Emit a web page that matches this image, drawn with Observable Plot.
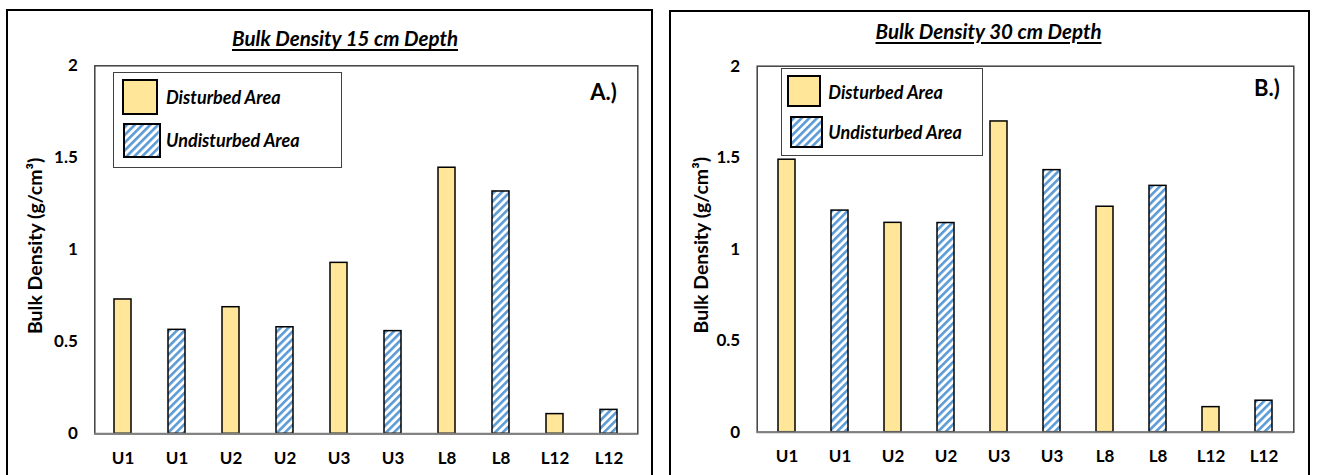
<!DOCTYPE html>
<html>
<head>
<meta charset="utf-8">
<script src="https://cdn.jsdelivr.net/npm/d3@7"></script>
<script src="https://cdn.jsdelivr.net/npm/@observablehq/plot@0.6"></script>
<style>
  html, body { margin: 0; padding: 0; background: #fff; }
  body { width: 1317px; height: 475px; position: relative; overflow: hidden; font-family: Lato, "Open Sans", sans-serif; }
  .panel-border { position: absolute; border: 2.5px solid #000; box-sizing: border-box; }
  .chart { position: absolute; top: 0; }
  .title { position: absolute; font-size: 20.5px; line-height: 20px; font-weight: bold; font-style: italic; text-decoration: underline; text-underline-offset: 3px; white-space: nowrap; transform: translateX(-50%); color: #000; }
  .legend { position: absolute; border: 1.5px solid #404040; box-sizing: border-box; background: #fff; }
  .swatch { position: absolute; box-sizing: border-box; border: 2px solid #000; }
  .legend-label { position: absolute; font-size: 18px; font-weight: bold; font-style: italic; white-space: nowrap; transform: translateY(-50%); line-height: 18px; }
</style>
</head>
<body>
<svg width="0" height="0" style="position:absolute">
  <defs>
    <pattern id="wideUpDiag" patternUnits="userSpaceOnUse" width="5.5" height="5.5" patternTransform="rotate(45)">
      <rect width="5.5" height="5.5" fill="#ffffff"></rect>
      <rect width="2.6" height="5.5" fill="#5B9BD5"></rect>
    </pattern>
  </defs>
</svg>
<div class="panel-border" style="left:6px; top:9px; width:647px; height:500px"></div>
<div class="panel-border" style="left:669px; top:10px; width:641px; height:500px"></div>
<div id="chartA" class="chart" style="left:0px"></div>
<div id="chartB" class="chart" style="left:660px"></div>
<script>
// Sample positions along the x axis (two bars per site: disturbed, undisturbed)
const categories = ["U1", "U1", "U2", "U2", "U3", "U3", "L8", "L8", "L12", "L12"];
const areas = ["Disturbed Area", "Undisturbed Area"];
const barArea = ["Disturbed Area", "Undisturbed Area", "Disturbed Area", "Undisturbed Area",
                 "Disturbed Area", "Undisturbed Area", "Disturbed Area", "Undisturbed Area",
                 "Disturbed Area", "Undisturbed Area"];

// Bulk density (g/cm³)
const density15 = [0.73, 0.565, 0.688, 0.579, 0.929, 0.558, 1.446, 1.317, 0.107, 0.13];
const density30 = [1.489, 1.211, 1.144, 1.143, 1.698, 1.432, 1.232, 1.346, 0.137, 0.172];

const yTicks = [0, 0.5, 1, 1.5, 2];
const yLabel = "Bulk Density (g/cm³)";
const titles = ["Bulk Density 15 cm Depth", "Bulk Density 30 cm Depth"];
const panelTags = ["A.)", "B.)"];

const areaFill = {"Disturbed Area": "#FFE699", "Undisturbed Area": "url(#wideUpDiag)"};

function rowsFor(values) {
  return values.map((v, i) => ({slot: i, label: categories[i], area: barArea[i], value: v}));
}

function bulkChart(values, tag, g) {
  const rows = rowsFor(values);
  return Plot.plot({
    width: g.width,
    height: 475,
    marginLeft: g.left,
    marginRight: g.right,
    marginTop: g.top,
    marginBottom: g.bottom,
    style: {background: "transparent", fontFamily: "Lato, 'Open Sans', sans-serif", color: "#000", overflow: "visible"},
    x: {type: "band", domain: d3.range(categories.length), paddingInner: 0.687, paddingOuter: 0.3435},
    y: {domain: [0, 2]},
    marks: [
      Plot.frame({stroke: "#404040", strokeWidth: 1.5}),
      ...areas.map(a => Plot.barY(rows.filter(d => d.area === a), {
        x: "slot", y: "value", fill: areaFill[a], stroke: "#000", strokeWidth: 1.5
      })),
      Plot.ruleY([0], {stroke: "#808080", strokeWidth: 2}),
      Plot.axisX({tickSize: 0, tickPadding: 18, tickFormat: i => categories[i], label: null,
                  fontSize: 17, fontWeight: "bold"}),
      Plot.axisY({ticks: yTicks, tickSize: 0, tickPadding: 17, tickFormat: d => String(d), label: null,
                  fontSize: 17, fontWeight: "bold"}),
      Plot.text([yLabel], {text: d => d, frameAnchor: "left", textAnchor: "middle", rotate: -90,
                           dx: g.labelDx, dy: -4, fontSize: 19.5, fontWeight: "bold"}),
      Plot.text([tag], {text: d => d, frameAnchor: "top-right", textAnchor: "end", lineAnchor: "middle",
                        dx: g.tagDx, dy: g.tagDy, fontSize: 22, fontWeight: "bold"})
    ]
  });
}

document.getElementById("chartA").append(bulkChart(density15, panelTags[0],
  {width: 660, left: 94.3, right: 22.7, top: 65.3, bottom: 41.7, labelDx: -59, tagDx: -21, tagDy: 27.5}));
document.getElementById("chartB").append(bulkChart(density30, panelTags[1],
  {width: 657, left: 96.7, right: 23.7, top: 65.7, bottom: 43.3, labelDx: -55, tagDx: -14, tagDy: 22.5}));

// Panel titles
function addTitle(text, cx, top) {
  const el = document.createElement("div");
  el.className = "title";
  el.textContent = text;
  el.style.left = cx + "px";
  el.style.top = top + "px";
  document.body.append(el);
}
addTitle(titles[0], 345, 28);
addTitle(titles[1], 988.5, 20.5);

// Legend boxes
function addLegend(box, items) {
  const lg = document.createElement("div");
  lg.className = "legend";
  Object.assign(lg.style, {left: box.x + "px", top: box.y + "px", width: box.w + "px", height: box.h + "px"});
  document.body.append(lg);
  items.forEach((it, k) => {
    const sw = document.createElement("div");
    sw.className = "swatch";
    Object.assign(sw.style, {left: it.sx + "px", top: it.sy + "px", width: it.sw + "px", height: it.sh + "px"});
    if (areas[k] === "Disturbed Area") {
      sw.style.background = areaFill[areas[k]];
    } else {
      sw.innerHTML = `<svg width="100%" height="100%" style="display:block"><rect width="100%" height="100%" fill="url(#wideUpDiag)"></rect></svg>`;
    }
    document.body.append(sw);
    const lb = document.createElement("div");
    lb.className = "legend-label";
    lb.textContent = areas[k];
    Object.assign(lb.style, {left: it.tx + "px", top: it.ty + "px"});
    document.body.append(lb);
  });
}
addLegend({x: 113.3, y: 71.7, w: 228.4, h: 96.6}, [
  {sx: 121.7, sy: 79, sw: 36.6, sh: 36, tx: 166, ty: 96.7},
  {sx: 123.3, sy: 123.3, sw: 37.7, sh: 35, tx: 166, ty: 140}
]);
addLegend({x: 780.7, y: 68.3, w: 202, h: 87.7}, [
  {sx: 787.3, sy: 75, sw: 33.7, sh: 32.3, tx: 828.3, ty: 92.3},
  {sx: 790, sy: 115.7, sw: 33.3, sh: 32, tx: 828.3, ty: 132.3}
]);
</script>
</body>
</html>
